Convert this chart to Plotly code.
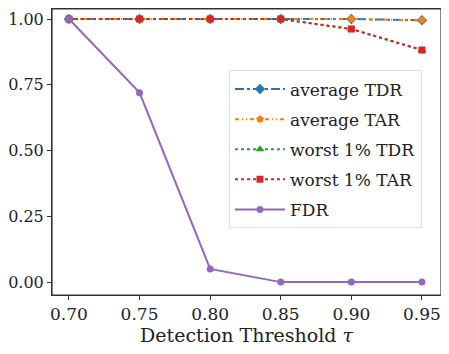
import plotly.graph_objects as go

thresholds = [0.70, 0.75, 0.80, 0.85, 0.90, 0.95]
avg_tdr = [1.0, 1.0, 1.0, 1.0, 1.0, 0.995]
avg_tar = [1.0, 1.0, 1.0, 1.0, 1.0, 0.995]
worst_tdr = [1.0, 1.0, 1.0, 1.0, 0.962, 0.882]
worst_tar = [1.0, 1.0, 1.0, 1.0, 0.962, 0.882]
fdr = [1.0, 0.72, 0.05, 0.0, 0.0, 0.0]
tick_vals = [0.70, 0.75, 0.80, 0.85, 0.90, 0.95]
tick_text = ["0.70", "0.75", "0.80", "0.85", "0.90", "0.95"]

font = "'DejaVu Serif', serif"

series = [
    ("average TDR", avg_tdr, "#1f77b4", "dashdot", "diamond", 8),
    ("average TAR", avg_tar, "#ff7f0e", "4px,3px,1px,3px,1px,3px", "pentagon", 8),
    ("worst 1% TDR", worst_tdr, "#2ca02c", "dot", "triangle-up", 8),
    ("worst 1% TAR", worst_tar, "#d62728", "dot", "square", 7),
    ("FDR", fdr, "#9467bd", "solid", "circle", 7),
]

fig = go.Figure()
for name, vals, color, dash, sym, size in series:
    fig.add_trace(go.Scatter(x=thresholds, y=vals, mode="lines+markers", name=name,
                             legendgroup=name,
                             line=dict(color=color, width=2, dash=dash),
                             marker=dict(color=color, symbol=sym, size=size)))

axis_common = dict(showgrid=False, zeroline=False, showline=True, linecolor="#333",
                   linewidth=1, mirror=True, ticks="outside", ticklen=4, tickcolor="#333",
                   automargin=False)

# frame around the plot area
fig.add_shape(type="rect", xref="paper", yref="paper", x0=0, y0=0, x1=1, y1=1,
              line=dict(color="#333", width=1.2), layer="above")

# the page body adds an 8px offset, so the figure is 8px smaller
fig.update_layout(
    width=441, height=346,
    margin=dict(l=44, r=8, t=1, b=59),
    plot_bgcolor="white", paper_bgcolor="white",
    font=dict(family=font, color="#222"),
    xaxis=dict(range=[0.688, 0.9635], tickvals=tick_vals, ticktext=tick_text,
               tickfont=dict(family=font, size=17, color="#222"),
               title=dict(text="Detection Threshold <i>τ</i>", font=dict(family=font, size=19), standoff=2),
               **axis_common),
    yaxis=dict(range=[-0.049, 1.038], tickvals=[0, 0.25, 0.5, 0.75, 1.0],
               ticktext=["0.00", "0.25", "0.50", "0.75", "1.00"],
               tickfont=dict(family=font, size=16, color="#222"), **axis_common),
    legend=dict(x=0.455, y=0.785, xanchor="left", yanchor="top",
                bgcolor="rgba(255,255,255,0.8)", bordercolor="#ddd", borderwidth=1,
                font=dict(family=font, size=17), tracegroupgap=5, itemwidth=50),
)

fig.write_html("out.html")
